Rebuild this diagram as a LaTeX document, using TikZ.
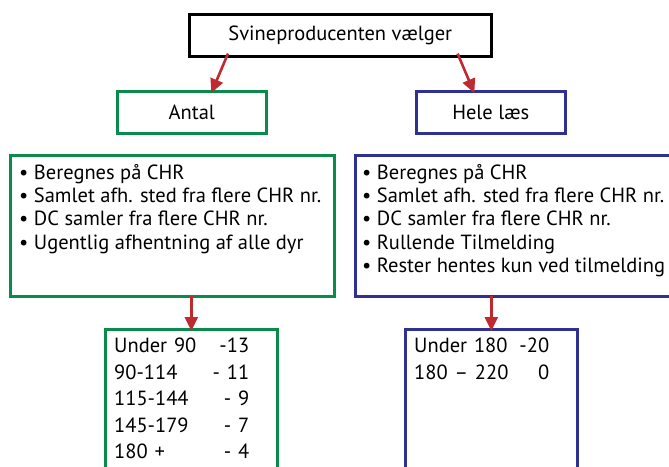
\documentclass[tikz,border=0pt]{standalone}
\usepackage{fontspec}
\setmainfont{PT Sans}
\usetikzlibrary{arrows.meta}
\definecolor{dgreen}{HTML}{0A8A4B}
\definecolor{dblue}{HTML}{2E3192}
\definecolor{dred}{HTML}{BE2A2F}
\tikzset{
  box/.style={draw, line width=2.6pt, rectangle, inner sep=0pt, anchor=north west},
  lbl/.style={font=\fontsize{20.5}{24}\selectfont, inner sep=0pt},
  lst/.style={font=\fontsize{20.5}{23.3}\selectfont, inner sep=0pt, align=left, anchor=north west},
  tbl/.style={font=\fontsize{20.5}{26.5}\selectfont, inner sep=0pt, align=left, anchor=north west, text width=135pt},
  arr/.style={draw=dred, line width=2.6pt, -{Triangle[length=14pt,width=13pt]}}
}
\begin{document}
\begin{tikzpicture}[x=1pt,y=-1pt]
\clip (0,0) rectangle (669,466);
% top
\node[box, draw=black, minimum width=302pt, minimum height=42pt] (top) at (188,13) {};
\node[lbl] (toptxt) at (top.center) {Svineproducenten vælger};
% second level
\node[box, draw=dgreen, minimum width=149pt, minimum height=42pt] (antal) at (116,90) {};
\node[lbl] (antaltxt) at (antal.center) {Antal};
\node[box, draw=dblue, minimum width=149pt, minimum height=42pt] (hele) at (415,90) {};
\node[lbl] (heletxt) at (hele.center) {Hele læs};
% lists
\node[box, draw=dgreen, minimum width=324pt, minimum height=141pt] (bigL) at (9,154) {};
\node[lst] (listL) at (19,164) {• Beregnes på CHR\\• Samlet afh. sted fra flere CHR nr.\\• DC samler fra flere CHR nr.\\• Ugentlig afhentning af alle dyr};
\node[box, draw=dblue, minimum width=340pt, minimum height=141pt] (bigR) at (354,154) {};
\node[lst] (listR) at (362,164) {• Beregnes på CHR\\• Samlet afh. sted fra flere CHR nr.\\• DC samler fra flere CHR nr.\\• Rullende Tilmelding\\• Rester hentes kun ved tilmelding};
% tables
\node[box, draw=dgreen, minimum width=172pt, minimum height=160pt] (tabL) at (104,328) {};
\node[tbl] (tabLtxt) at (114,338) {Under 90\hfill-13\\90-114\hfill- 11\\115-144\hfill- 9\\145-179\hfill- 7\\180 +\hfill- 4};
\node[box, draw=dblue, minimum width=172pt, minimum height=160pt] (tabR) at (404,328) {};
\node[tbl] (tabRtxt) at (414,338) {Under 180\hfill-20\\180 – 220\hfill0};
% arrows
\draw[arr] ([xshift=40pt,yshift=4pt]top.south west) -- ([xshift=19.5pt,yshift=-3pt]antal.north);
\draw[arr] ([xshift=-35pt,yshift=4pt]top.south east) -- ([xshift=-16.5pt,yshift=-3pt]hele.north);
\draw[arr] ([yshift=2pt]tabL.north |- bigL.south) -- ([yshift=-3pt]tabL.north);
\draw[arr] ([yshift=2pt]tabR.north |- bigR.south) -- ([yshift=-3pt]tabR.north);
\end{tikzpicture}
\end{document}
